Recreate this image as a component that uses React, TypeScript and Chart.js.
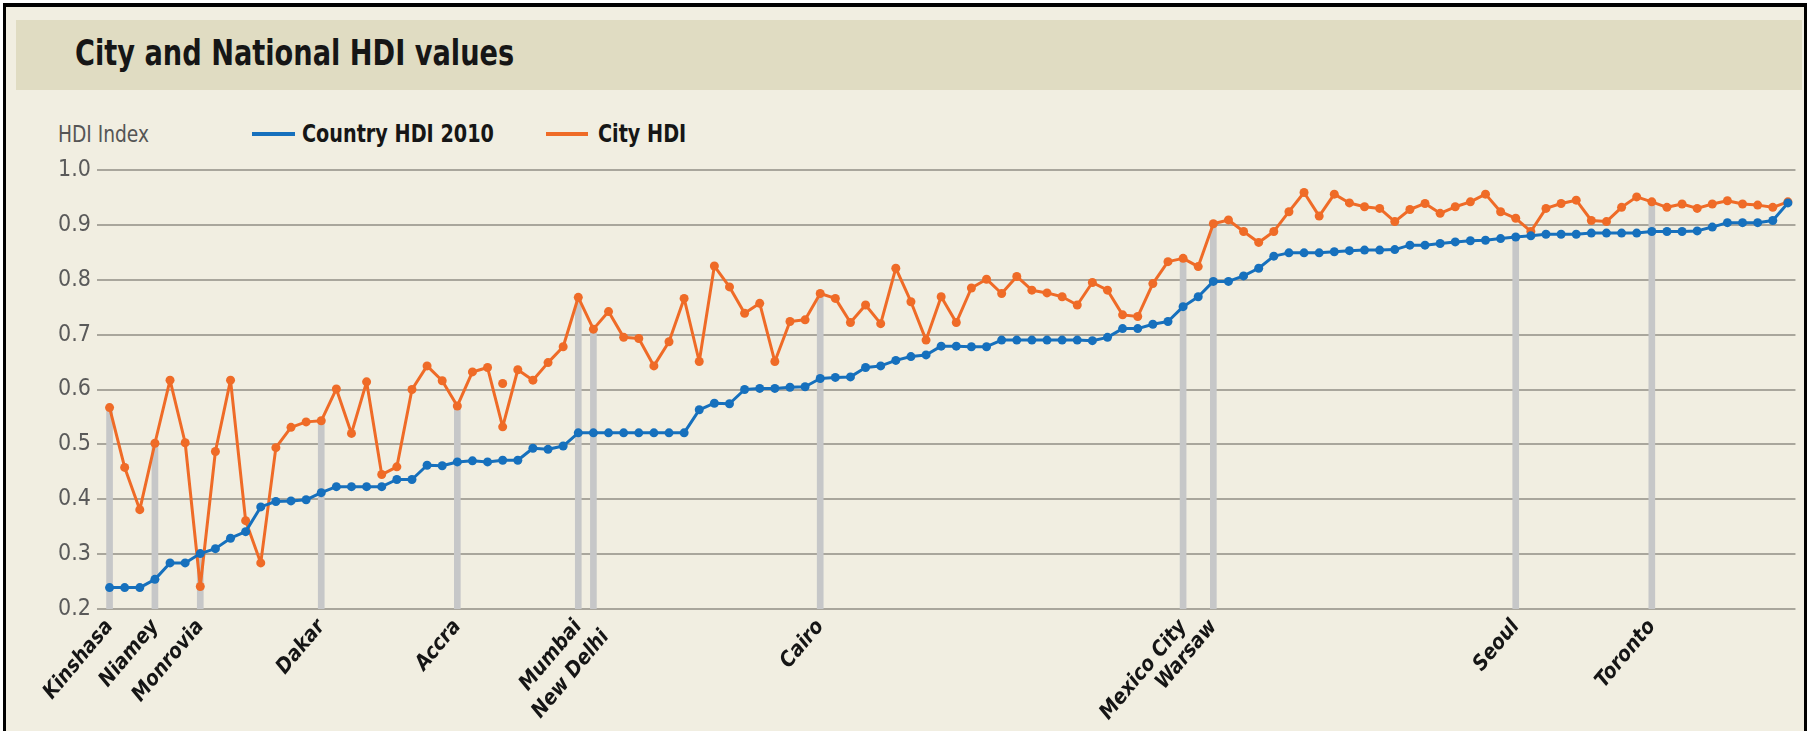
import React, { useEffect, useRef } from "react";
import { Chart, registerables } from "chart.js";

Chart.register(...registerables);

const FONT = '"Liberation Sans Narrow", "Arial Narrow", "DejaVu Sans Condensed", "Liberation Sans", sans-serif';

const countryHDI = [
  0.239, 0.239, 0.239, 0.254, 0.284, 0.284, 0.301, 0.310, 0.329, 0.341,
  0.386, 0.396, 0.397, 0.399, 0.412, 0.423, 0.423, 0.423, 0.423, 0.436,
  0.436, 0.462, 0.461, 0.468, 0.470, 0.468, 0.471, 0.471, 0.493, 0.491,
  0.497, 0.521, 0.521, 0.521, 0.521, 0.521, 0.521, 0.521, 0.521, 0.563,
  0.575, 0.574, 0.600, 0.602, 0.602, 0.604, 0.605, 0.620, 0.622, 0.623,
  0.640, 0.643, 0.653, 0.660, 0.663, 0.679, 0.679, 0.678, 0.678, 0.690,
  0.690, 0.690, 0.690, 0.690, 0.690, 0.689, 0.695, 0.711, 0.711, 0.719,
  0.724, 0.751, 0.769, 0.797, 0.797, 0.807, 0.821, 0.843, 0.849, 0.849,
  0.849, 0.851, 0.853, 0.854, 0.854, 0.855, 0.863, 0.863, 0.866, 0.869,
  0.871, 0.872, 0.875, 0.878, 0.880, 0.883, 0.883, 0.883, 0.885, 0.885,
  0.885, 0.885, 0.888, 0.888, 0.888, 0.889, 0.896, 0.904, 0.904, 0.904,
  0.908, 0.940,
];

const cityHDI = [
  0.567, 0.458, 0.381, 0.502, 0.617, 0.503, 0.241, 0.487, 0.617, 0.361,
  0.284, 0.494, 0.531, 0.541, 0.543, 0.601, 0.520, 0.614, 0.445, 0.459,
  0.600, 0.643, 0.616, 0.570, 0.632, 0.640, 0.532, 0.636, 0.617, 0.649,
  0.678, 0.768, 0.710, 0.742, 0.695, 0.693, 0.643, 0.687, 0.766, 0.651,
  0.825, 0.787, 0.739, 0.757, 0.651, 0.724, 0.727, 0.775, 0.766, 0.722,
  0.754, 0.720, 0.821, 0.760, 0.690, 0.769, 0.722, 0.785, 0.801, 0.775,
  0.806, 0.781, 0.776, 0.769, 0.754, 0.795, 0.781, 0.736, 0.733, 0.793,
  0.833, 0.839, 0.824, 0.902, 0.909, 0.888, 0.868, 0.888, 0.924, 0.959,
  0.916, 0.956, 0.940, 0.933, 0.930, 0.906, 0.928, 0.939, 0.921, 0.933,
  0.942, 0.956, 0.924, 0.912, 0.888, 0.930, 0.939, 0.945, 0.908, 0.906,
  0.932, 0.951, 0.942, 0.932, 0.938, 0.930, 0.938, 0.944, 0.938, 0.936,
  0.932, 0.942,
];

// a lone City HDI marker that sits off the line in the original graphic
const strayCityIndex = 26;
const strayCityValue = 0.611;

// rank position (0-based) of each named city along the x axis
const highlightIndex = [0, 3, 6, 14, 23, 31, 32, 47, 71, 73, 93, 102];
const highlightCity = [
  "Kinshasa", "Niamey", "Monrovia", "Dakar", "Accra", "Mumbai",
  "New Delhi", "Cairo", "Mexico City", "Warsaw", "Seoul", "Toronto",
];
// names printed one step lower so they do not collide with a neighbour
const droppedCity = ["New Delhi"];
// top of the grey marker bar for each named city
const highlightTop = [
  0.567, 0.502, 0.301, 0.543, 0.570, 0.768, 0.710, 0.775, 0.839, 0.902, 0.880, 0.942,
];

const yMin = 0.2;
const yMax = 1.0;
const yStep = 0.1;

const BLUE = "#1670bd";
const ORANGE = "#ef6b27";
const BAR_GREY = "#c6c7c8";
const GRID = "#a9a69c";
const BG = "#f1eee1";
const BAND = "#e0dcc2";

const textBase: React.CSSProperties = {
  position: "absolute",
  fontFamily: FONT,
  whiteSpace: "nowrap",
  transformOrigin: "left center",
};

export default function App() {
  const canvasRef = useRef<HTMLCanvasElement | null>(null);

  useEffect(() => {
    const canvas = canvasRef.current;
    if (!canvas) return;
    const n = countryHDI.length;
    const categories: any[] = Array.from({ length: n }, (_, i) => {
      const k = highlightIndex.indexOf(i);
      if (k < 0) return "";
      const name = highlightCity[k];
      return droppedCity.includes(name) ? ["", name] : name;
    });
    const barData: any[] = Array.from({ length: n }, () => null);
    highlightIndex.forEach((idx, k) => {
      barData[idx] = [yMin, highlightTop[k]];
    });
    const strayData: any[] = Array.from({ length: n }, () => null);
    strayData[strayCityIndex] = strayCityValue;

    const chart = new Chart(canvas, {
      type: "line",
      data: {
        labels: categories,
        datasets: [
          {
            type: "line",
            label: "Country HDI 2010",
            data: countryHDI,
            borderColor: BLUE,
            backgroundColor: BLUE,
            borderWidth: 3,
            borderJoinStyle: "round",
            pointRadius: 4.5,
            pointBorderWidth: 0,
            pointBackgroundColor: BLUE,
            tension: 0,
            order: 0,
          } as any,
          {
            type: "line",
            label: "City HDI",
            data: cityHDI,
            borderColor: ORANGE,
            backgroundColor: ORANGE,
            borderWidth: 3,
            borderJoinStyle: "round",
            pointRadius: 4.5,
            pointBorderWidth: 0,
            pointBackgroundColor: ORANGE,
            tension: 0,
            order: 1,
          } as any,
          {
            type: "line",
            label: "City HDI (marker)",
            data: strayData,
            showLine: false,
            pointRadius: 4.5,
            pointBorderWidth: 0,
            pointBackgroundColor: ORANGE,
            borderColor: ORANGE,
            backgroundColor: ORANGE,
            order: 1,
          } as any,
          {
            type: "bar",
            label: "cities",
            data: barData,
            backgroundColor: BAR_GREY,
            borderWidth: 0,
            barThickness: 6,
            order: 2,
          } as any,
        ],
      },
      options: {
        animation: false,
        responsive: false,
        maintainAspectRatio: false,
        layout: { padding: { top: 30, right: 8, left: 0, bottom: 0 } },
        plugins: {
          legend: { display: false },
          tooltip: { enabled: false },
        },
        scales: {
          x: {
            type: "category",
            offset: true,
            grid: { display: false, drawTicks: false },
            border: { display: false },
            ticks: {
              autoSkip: false,
              maxRotation: 50,
              minRotation: 50,
              padding: 9,
              color: "#151515",
              font: { family: FONT, size: 21, weight: "bold", style: "italic", lineHeight: 0.75 },
            },
            afterFit: (s: any) => {
              s.height = 122;
            },
          },
          y: {
            min: yMin,
            max: yMax,
            ticks: {
              stepSize: yStep,
              padding: 6,
              color: "#5a5a5a",
              font: { family: FONT, size: 23 },
              callback: (v: any) => Number(v).toFixed(1),
            },
            grid: { color: GRID, lineWidth: 2, tickLength: 5, drawTicks: true },
            border: { display: false },
            afterFit: (s: any) => {
              s.width = 102;
            },
          },
        },
      } as any,
    });
    return () => chart.destroy();
  }, []);

  return (
    <div
      style={{
        position: "absolute",
        left: 0,
        top: 0,
        width: 1809,
        height: 731,
        background: "#ffffff",
        overflow: "hidden",
      }}
    >
      <div
        style={{
          position: "absolute",
          left: 3,
          top: 3,
          width: 1804,
          height: 728,
          borderLeft: "3px solid #000",
          borderTop: "4px solid #000",
          borderRight: "3px solid #000",
          background: BG,
          boxSizing: "border-box",
        }}
      />
      <div
        style={{
          position: "absolute",
          left: 16,
          top: 20,
          width: 1786,
          height: 70,
          background: BAND,
        }}
      />
      <div
        style={{
          ...textBase,
          left: 75,
          top: 31,
          fontWeight: "bold",
          fontSize: 36,
          lineHeight: "44px",
          color: "#161616",
          transform: "scaleX(0.84)",
        }}
      >
        City and National HDI values
      </div>
      <div
        style={{
          ...textBase,
          left: 58,
          top: 119,
          fontSize: 23,
          lineHeight: "30px",
          color: "#555",
          transform: "scaleX(0.9)",
        }}
      >
        HDI Index
      </div>
      <div style={{ position: "absolute", left: 252, top: 132, width: 43, height: 4, background: BLUE }} />
      <div
        style={{
          ...textBase,
          left: 302,
          top: 119,
          fontWeight: "bold",
          fontSize: 24,
          lineHeight: "30px",
          color: "#161616",
          transform: "scaleX(0.89)",
        }}
      >
        Country HDI 2010
      </div>
      <div style={{ position: "absolute", left: 546, top: 132, width: 42, height: 4, background: ORANGE }} />
      <div
        style={{
          ...textBase,
          left: 598,
          top: 119,
          fontWeight: "bold",
          fontSize: 24,
          lineHeight: "30px",
          color: "#161616",
          transform: "scaleX(0.89)",
        }}
      >
        City HDI
      </div>
      <canvas
        ref={canvasRef}
        width={1809}
        height={591}
        style={{ position: "absolute", left: 0, top: 140, width: 1809, height: 591 }}
      />
    </div>
  );
}
